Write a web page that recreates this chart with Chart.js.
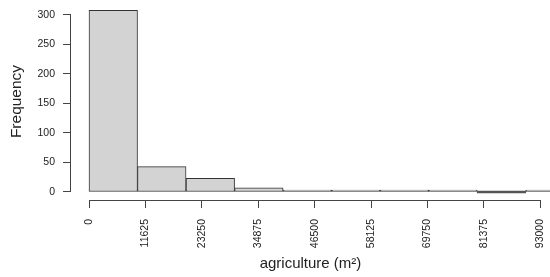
<!DOCTYPE html>
<html>
<head>
<meta charset="utf-8">
<script src="https://cdn.jsdelivr.net/npm/chart.js@4"></script>
<style>
  body { margin: 0; background: #fff; }
</style>
</head>
<body>
<canvas id="chart" width="550" height="277"></canvas>
<script>
// histogram bins (10000 wide) and their counts
const binMids = [5000, 15000, 25000, 35000, 45000, 55000, 65000, 75000, 85000, 95000];
const counts = [308, 43, 23, 7, 1, 1, 1, 1, 0, 1];
// axis ticks as drawn in the original
const xTicks = [0, 11625, 23250, 34875, 46500, 58125, 69750, 81375, 93000];
const yTicks = [0, 50, 100, 150, 200, 250, 300];

const axisColor = '#444';

// R style axis lines: only run from first to last tick
const axisLines = {
  id: 'axisLines',
  afterDraw(chart) {
    const ctx = chart.ctx;
    const x = chart.scales.x;
    const y = chart.scales.y;
    const area = chart.chartArea;
    ctx.save();
    ctx.strokeStyle = axisColor;
    ctx.lineWidth = 1;
    ctx.beginPath();
    const xb = Math.round(area.bottom) + 0.5;
    ctx.moveTo(x.getPixelForValue(xTicks[0]), xb);
    ctx.lineTo(x.getPixelForValue(xTicks[xTicks.length - 1]), xb);
    const yl = Math.round(area.left) - 0.5;
    ctx.moveTo(yl, y.getPixelForValue(yTicks[0]));
    ctx.lineTo(yl, y.getPixelForValue(yTicks[yTicks.length - 1]));
    ctx.stroke();
    ctx.restore();
  }
};

new Chart(document.getElementById('chart'), {
  type: 'bar',
  data: {
    datasets: [{
      data: binMids.map((m, i) => ({x: m, y: counts[i]})),
      backgroundColor: c => counts[c.dataIndex] === 0 ? '#555' : '#d3d3d3',
      borderColor: '#333',
      borderWidth: c => counts[c.dataIndex] === 0 ? 0 : 1,
      borderSkipped: false,
      minBarLength: 2,
      barPercentage: 1,
      categoryPercentage: 1
    }]
  },
  options: {
    responsive: false,
    animation: false,
    devicePixelRatio: 1,
    layout: {padding: {top: 3, right: 0, left: 0, bottom: 0}},
    plugins: {legend: {display: false}, tooltip: {enabled: false}},
    scales: {
      x: {
        type: 'linear',
        offset: false,
        min: -3710,
        max: 95000,
        afterBuildTicks: s => { s.ticks = xTicks.map(v => ({value: v})); },
        afterFit: s => { s.height = 77; s.paddingLeft = 0; s.paddingRight = 0; },
        border: {display: false},
        grid: {offset: false, drawOnChartArea: false, drawTicks: true, tickLength: 8, color: axisColor},
        ticks: {
          autoSkip: false,
          minRotation: 90,
          maxRotation: 90,
          padding: 11,
          color: '#222',
          font: {family: 'Liberation Sans', size: 10.5},
          callback: v => String(v)
        },
        title: {
          display: true,
          text: 'agriculture (m²)',
          color: '#222',
          font: {family: 'Liberation Sans', size: 15},
          padding: {top: 0, bottom: 4}
        }
      },
      y: {
        min: -13.6,
        max: 320.3,
        afterBuildTicks: s => { s.ticks = yTicks.map(v => ({value: v})); },
        afterFit: s => { s.width = 71; s.paddingTop = 0; s.paddingBottom = 0; },
        border: {display: false},
        grid: {drawOnChartArea: false, drawTicks: true, tickLength: 8, color: axisColor},
        ticks: {
          padding: 8,
          color: '#222',
          font: {family: 'Liberation Sans', size: 10.5}
        },
        title: {
          display: true,
          text: 'Frequency',
          color: '#222',
          font: {family: 'Liberation Sans', size: 15.5},
          padding: {top: 7, bottom: 0}
        }
      }
    }
  },
  plugins: [axisLines]
});
</script>
</body>
</html>
